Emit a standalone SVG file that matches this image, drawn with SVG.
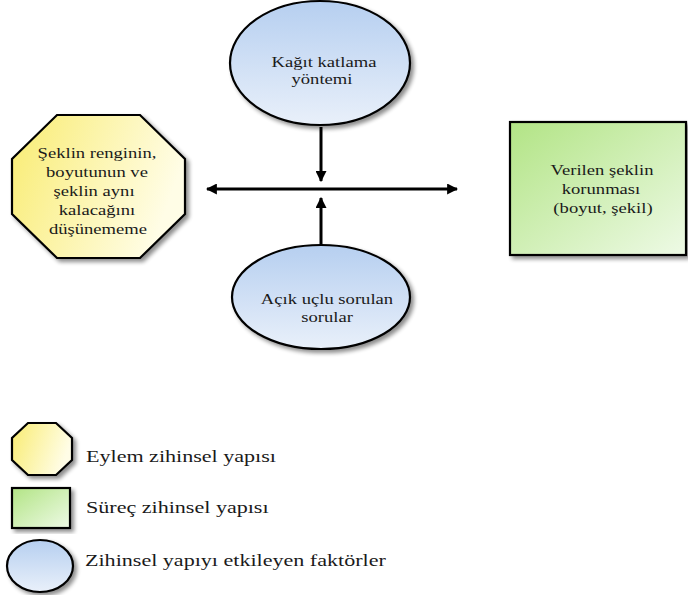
<svg xmlns="http://www.w3.org/2000/svg" width="688" height="595" viewBox="0 0 688 595">
<style>
.shape{stroke:#000;stroke-width:2.2}
.t{font-family:"Liberation Serif","DejaVu Serif",serif;font-size:14px;fill:#1a1a1a;text-anchor:middle}
.lt{font-family:"Liberation Serif","DejaVu Serif",serif;font-size:16px;fill:#1a1a1a}
.conn{stroke:#000;stroke-width:3;fill:none}
</style>
<defs>
<linearGradient id="gBlue" x1="0" y1="0" x2="0" y2="1">
<stop offset="0" stop-color="#b6cff0"/><stop offset="1" stop-color="#e9f0fa"/>
</linearGradient>
<linearGradient id="gYel" x1="0" y1="0" x2="1" y2="0.3">
<stop offset="0" stop-color="#f9ec72"/><stop offset="1" stop-color="#fffde6"/>
</linearGradient>
<linearGradient id="gGrn" x1="0" y1="0" x2="1" y2="1">
<stop offset="0" stop-color="#b2e485"/><stop offset="1" stop-color="#eefae6"/>
</linearGradient>
<filter id="sh" x="-10%" y="-10%" width="125%" height="125%">
<feGaussianBlur in="SourceAlpha" stdDeviation="2"/>
<feOffset dx="3" dy="3" result="b"/>
<feComponentTransfer><feFuncA type="linear" slope="0.45"/></feComponentTransfer>
<feMerge><feMergeNode/><feMergeNode in="SourceGraphic"/></feMerge>
</filter>
<marker id="ah" viewBox="0 0 10 10" refX="9" refY="5" markerWidth="11" markerHeight="11" markerUnits="userSpaceOnUse" orient="auto-start-reverse">
<path d="M0,0 L10,5 L0,10 Z" fill="#000"/>
</marker>
</defs>

<g id="connectors">
<line class="conn" x1="321" y1="127" x2="321" y2="181" marker-end="url(#ah)"/>
<line class="conn" x1="321" y1="246" x2="321" y2="198" marker-end="url(#ah)"/>
<line class="conn" x1="207" y1="189" x2="457" y2="189" marker-start="url(#ah)" marker-end="url(#ah)"/>
</g>

<g id="node-kagit">
<ellipse class="shape" cx="320" cy="63" rx="90" ry="62" fill="url(#gBlue)" filter="url(#sh)"/>
<text class="t" transform="translate(324,67) scale(1.33,1)">Kağıt katlama</text>
<text class="t" transform="translate(322,84) scale(1.33,1)">yöntemi</text>
</g>

<g id="node-sekil">
<polygon class="shape" points="57,115 140,115 185,159 185,214 140,258 57,258 12,214 12,159" fill="url(#gYel)" filter="url(#sh)"/>
<text class="t" transform="translate(97,158) scale(1.33,1)">Şeklin renginin,</text>
<text class="t" transform="translate(97,177) scale(1.33,1)">boyutunun ve</text>
<text class="t" transform="translate(94,196) scale(1.33,1)">şeklin aynı</text>
<text class="t" transform="translate(97,215) scale(1.33,1)">kalacağını</text>
<text class="t" transform="translate(98,234) scale(1.33,1)">düşünememe</text>
</g>

<g id="node-verilen">
<rect class="shape" x="510" y="122" width="176" height="133" fill="url(#gGrn)" filter="url(#sh)"/>
<text class="t" transform="translate(602,175) scale(1.33,1)">Verilen şeklin</text>
<text class="t" transform="translate(601,194) scale(1.33,1)">korunması</text>
<text class="t" transform="translate(603,213) scale(1.33,1)">(boyut, şekil)</text>
</g>

<g id="node-acik">
<ellipse class="shape" cx="321" cy="297" rx="89" ry="52" fill="url(#gBlue)" filter="url(#sh)"/>
<text class="t" transform="translate(327,304) scale(1.33,1)">Açık uçlu sorulan</text>
<text class="t" transform="translate(327,322) scale(1.33,1)">sorular</text>
</g>

<g id="legend-eylem">
<polygon class="shape" points="28,423 56,423 72,438 72,460 56,475 28,475 12,460 12,438" fill="url(#gYel)" filter="url(#sh)"/>
<text class="lt" transform="translate(86,462) scale(1.38,1)">Eylem zihinsel yapısı</text>
</g>

<g id="legend-surec">
<rect class="shape" x="12" y="488" width="58" height="40" fill="url(#gGrn)" filter="url(#sh)"/>
<text class="lt" transform="translate(86,513) scale(1.38,1)">Süreç zihinsel yapısı</text>
</g>

<g id="legend-zihinsel">
<ellipse class="shape" cx="40" cy="566" rx="33" ry="26" fill="url(#gBlue)" filter="url(#sh)"/>
<text class="lt" transform="translate(85,566) scale(1.38,1)">Zihinsel yapıyı etkileyen faktörler</text>
</g>
</svg>
